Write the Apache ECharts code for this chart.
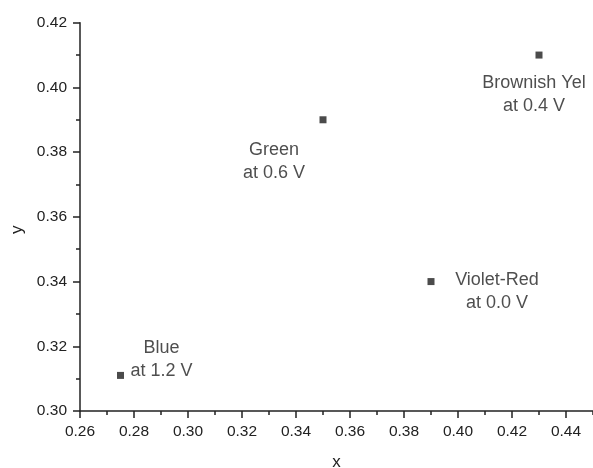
<!DOCTYPE html>
<html>
<head>
<meta charset="utf-8">
<script src="https://cdn.jsdelivr.net/npm/echarts@6/dist/echarts.min.js"></script>
<style>
html,body{margin:0;padding:0;background:#fff;}
#chart{width:593px;height:468px;}
</style>
</head>
<body>
<div id="chart"></div>
<script>
// Data
var pointNames = ['Blue', 'Green', 'Violet-Red', 'Brownish Yel'];
var pointVoltages = ['at 1.2 V', 'at 0.6 V', 'at 0.0 V', 'at 0.4 V'];
var xValues = [0.275, 0.35, 0.39, 0.43];
var yValues = [0.311, 0.39, 0.34, 0.41];
var xMajorTicks = [0.26, 0.28, 0.30, 0.32, 0.34, 0.36, 0.38, 0.40, 0.42, 0.44];
var xMinorTicks = [0.27, 0.29, 0.31, 0.33, 0.35, 0.37, 0.39, 0.41, 0.43, 0.45];

// Label layout (offset of label block centre from the marker centre, px)
var labelOffsets = [[41, -16], [-49, 42], [66, 10], [-5, 39.5]];

var FONT = '"Liberation Sans", Arial, Helvetica, sans-serif';
var AX = '#222';
var TXT = '#222';
var SYM = 7;

var data = xValues.map(function (x, i) {
  return {
    name: pointNames[i],
    value: [x, yValues[i]],
    label: {
      show: true,
      position: [labelOffsets[i][0] + SYM / 2, labelOffsets[i][1] + SYM / 2],
      align: 'center',
      verticalAlign: 'middle',
      formatter: pointNames[i] + '\n' + pointVoltages[i]
    }
  };
});

var chart = echarts.init(document.getElementById('chart'), null, {renderer: 'canvas'});
chart.setOption({
  animation: false,
  backgroundColor: '#fff',
  grid: {left: 80, right: 0, top: 22.7, bottom: 57, containLabel: false, outerBoundsMode: 'none'},
  xAxis: [{
    type: 'value', min: 0.26, max: 0.45, position: 'bottom',
    name: 'x', nameLocation: 'middle', nameGap: 43,
    nameTextStyle: {fontFamily: FONT, fontSize: 17, color: TXT},
    axisLine: {show: true, onZero: false, lineStyle: {color: AX, width: 1.5}},
    axisTick: {show: true, length: 7, customValues: xMajorTicks, lineStyle: {color: AX, width: 1.5}},
    axisLabel: {show: true, margin: 13, customValues: xMajorTicks, fontFamily: FONT, fontSize: 15.5, color: TXT,
      formatter: function (v) { return v.toFixed(2); }},
    splitLine: {show: false}
  }, {
    type: 'value', min: 0.26, max: 0.45, position: 'bottom',
    axisLine: {show: false, onZero: false},
    axisTick: {show: true, length: 4, customValues: xMinorTicks, lineStyle: {color: AX, width: 1.5}},
    axisLabel: {show: false},
    splitLine: {show: false}
  }],
  yAxis: {
    type: 'value', min: 0.30, max: 0.42, interval: 0.02, position: 'left',
    name: 'y', nameLocation: 'middle', nameGap: 50,
    nameTextStyle: {fontFamily: FONT, fontSize: 17, color: TXT, padding: [0, 26, 0, 0]},
    axisLine: {show: true, onZero: false, lineStyle: {color: AX, width: 1.5}},
    axisTick: {show: true, length: 7, lineStyle: {color: AX, width: 1.5}},
    minorTick: {show: true, splitNumber: 2, length: 4, lineStyle: {color: AX, width: 1.5}},
    axisLabel: {show: true, margin: 13, fontFamily: FONT, fontSize: 15.5, color: TXT,
      formatter: function (v) { return v.toFixed(2); }},
    splitLine: {show: false}
  },
  series: [{
    type: 'scatter',
    xAxisIndex: 0,
    symbol: 'rect',
    symbolSize: SYM,
    itemStyle: {color: '#1e1e1e'},
    label: {fontFamily: FONT, fontSize: 18, color: TXT, lineHeight: 23.5},
    labelLayout: {hideOverlap: false},
    data: data
  }]
});
</script>
</body>
</html>
